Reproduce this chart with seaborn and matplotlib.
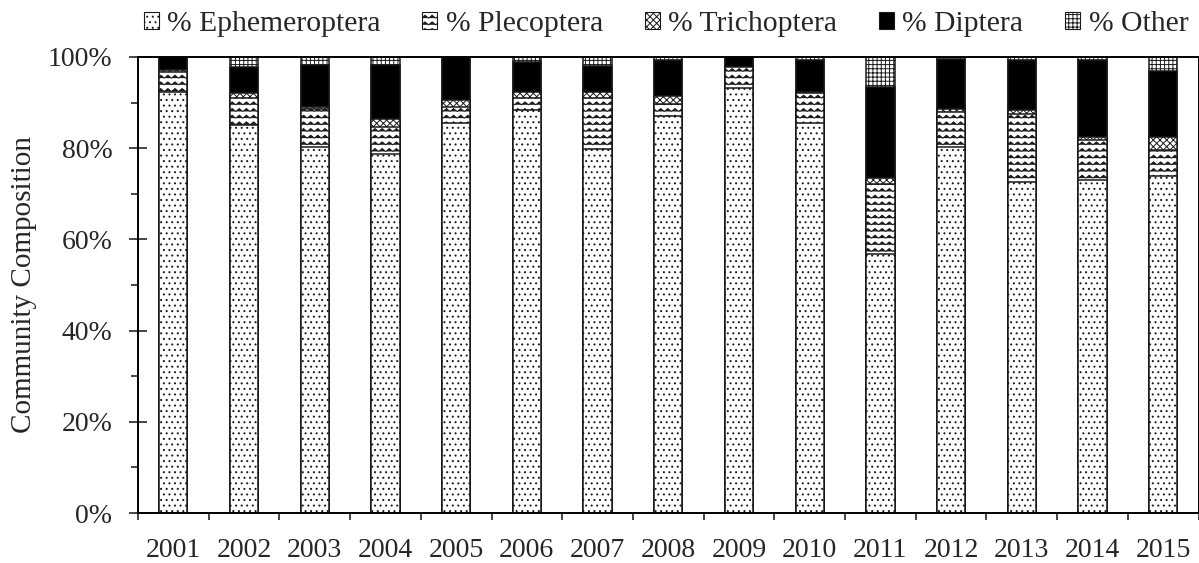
import warnings
import numpy as np
import pandas as pd
import matplotlib
matplotlib.use('Agg')
import matplotlib.pyplot as plt
import matplotlib.hatch as mhatch
from matplotlib.path import Path
from matplotlib.patches import Patch
from matplotlib.ticker import FixedLocator
import seaborn as sns

warnings.filterwarnings('ignore')

# dados (% da comunidade por ano)
years = [str(y) for y in range(2001, 2016)]
ephemeroptera = [92.3, 85.0, 80.2, 78.7, 85.6, 88.4, 79.8, 87.1, 93.1, 85.6, 56.9, 80.2, 72.5, 73.0, 73.8]
plecoptera = [4.3, 5.9, 8.3, 5.9, 3.4, 2.5, 11.1, 2.6, 4.7, 6.6, 15.2, 7.8, 15.1, 8.8, 5.8]
trichoptera = [0.5, 1.3, 0.6, 1.8, 1.6, 1.4, 1.4, 1.7, 0.0, 0.2, 1.3, 0.5, 0.8, 0.7, 2.8]
diptera = [2.9, 5.7, 9.1, 11.9, 9.4, 6.7, 5.7, 7.9, 2.2, 6.9, 20.0, 11.1, 10.9, 16.8, 14.6]
other = [0.0, 2.1, 1.8, 1.7, 0.0, 1.0, 2.0, 0.7, 0.0, 0.7, 6.6, 0.4, 0.7, 0.7, 3.0]
labels = ['% Ephemeroptera', '% Plecoptera', '% Trichoptera', '% Diptera', '% Other']


# hachura ondulada (nao existe no matplotlib)
class WaveHatch(mhatch.HatchPatternBase):
    def __init__(self, hatch, density):
        self.num_rows = int(hatch.count('~') * density * 1.25)
        self.num_segs = 28
        self.num_vertices = self.num_rows * (self.num_segs + 1)

    def set_vertices_and_codes(self, vertices, codes):
        step = 1.0 / self.num_rows
        xs = np.linspace(0, 1, self.num_segs + 1)
        amp = step * 0.22
        offs = np.where(np.arange(self.num_segs + 1) % 2 == 0, -amp, amp)
        n = self.num_segs + 1
        for i in range(self.num_rows):
            vertices[i * n:(i + 1) * n, 0] = xs
            vertices[i * n:(i + 1) * n, 1] = (i + 0.5) * step + offs
            codes[i * n:(i + 1) * n] = Path.LINETO
            codes[i * n] = Path.MOVETO


mhatch._hatch_types.append(WaveHatch)

sns.set_style('ticks')
plt.rcParams['font.family'] = ['Liberation Serif', 'DejaVu Serif']
plt.rcParams['hatch.linewidth'] = 0.7

df = pd.DataFrame({'Ano': years, 'E': ephemeroptera, 'P': plecoptera,
                   'T': trichoptera, 'D': diptera, 'O': other})
cols = ['E', 'P', 'T', 'D', 'O']
cum = df[cols].cumsum(axis=1)

styles = {
    'E': ('white', '...'),
    'P': ('white', '~~'),
    'T': ('white', 'xxxxx'),
    'D': ('black', None),
    'O': ('white', '++++'),
}

fig = plt.figure(figsize=(11.99, 5.63), dpi=100)
ax = fig.add_axes([0.1151, 0.0888, 0.8845, 0.81])

# barras empilhadas: desenha do total para a base
for c in reversed(cols):
    fc, h = styles[c]
    sns.barplot(x=df['Ano'], y=cum[c], order=years, color=fc, saturation=1,
                width=0.4, edgecolor='#1a1a1a', linewidth=1.1, hatch=h,
                errorbar=None, ax=ax)

ax.set_xlim(-0.5, 14.5)
ax.set_ylim(0, 100)
ax.set_xlabel('')
ax.set_ylabel('Community Composition', fontsize=21)
ax.yaxis.set_label_coords(-0.095, 0.5)

ax.yaxis.set_major_locator(FixedLocator([0, 20, 40, 60, 80, 100]))
ax.set_yticklabels([f'{v}%' for v in [0, 20, 40, 60, 80, 100]])
ax.yaxis.set_minor_locator(FixedLocator([10, 30, 50, 70, 90]))
ax.tick_params(axis='y', which='major', direction='inout', length=13, width=1.2,
               labelsize=20, pad=12)
ax.tick_params(axis='y', which='minor', direction='out', length=5, width=1.2)

ax.xaxis.set_major_locator(FixedLocator(range(15)))
ax.set_xticklabels(years)
ax.xaxis.set_minor_locator(FixedLocator(np.arange(-0.5, 15, 1)))
ax.tick_params(axis='x', which='major', length=0, labelsize=20, pad=18)
ax.tick_params(axis='x', which='minor', direction='out', length=5, width=1.2)

for s in ax.spines.values():
    s.set_visible(True)
    s.set_linewidth(1.4)
    s.set_color('black')

handles = [Patch(facecolor=styles[c][0], edgecolor='#1a1a1a', hatch=styles[c][1],
                 linewidth=0.8) for c in cols]
fig.legend(handles, labels, loc='center', bbox_to_anchor=(0.5555, 0.958), ncol=5,
           frameon=False, fontsize=21.3, handlelength=0.5, handleheight=0.5,
           handletextpad=0.3, columnspacing=1.4, borderaxespad=0)

fig.savefig('out.png', dpi=100)
